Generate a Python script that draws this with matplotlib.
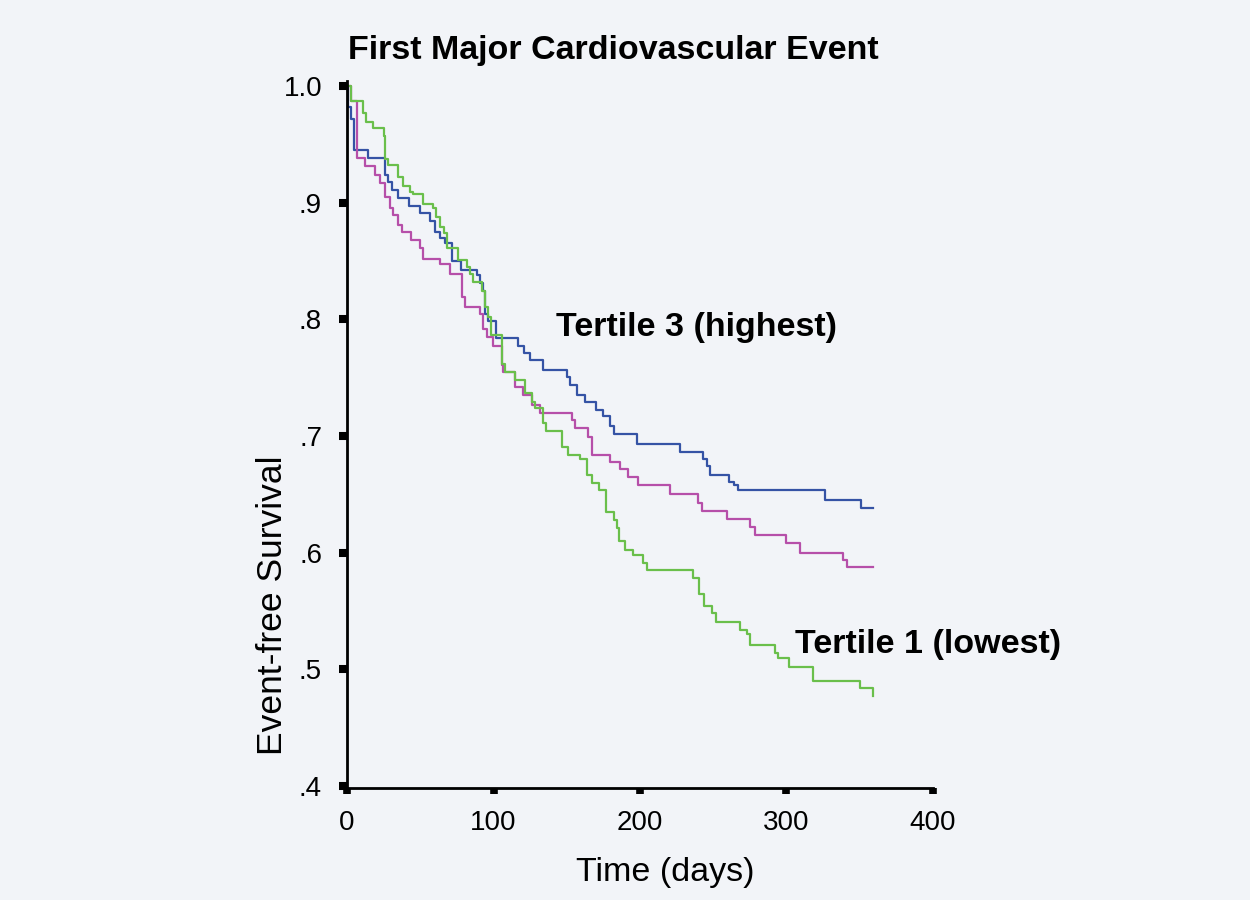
import numpy as np
import matplotlib
matplotlib.use("Agg")
import matplotlib.pyplot as plt

plt.rcParams['font.family'] = ['Liberation Sans', 'DejaVu Sans']

# Kaplan-Meier step data (days, event-free survival)
t_high = [0, 1, 3, 5, 14.6, 26, 28, 30.5, 35, 42, 50, 56.7, 60, 63.5, 67, 71.5,
          78, 88.5, 91, 93, 94, 96.5, 102, 117, 121, 125, 134, 150, 152, 157,
          162.5, 170, 175, 179.5, 182, 198, 227, 243, 245.5, 248, 261, 264, 267,
          326, 351, 359]
s_high = [1.0, 0.982, 0.972, 0.945, 0.938, 0.924, 0.918, 0.911, 0.904, 0.897,
          0.891, 0.884, 0.875, 0.870, 0.865, 0.850, 0.842, 0.838, 0.831, 0.824,
          0.805, 0.799, 0.784, 0.777, 0.771, 0.765, 0.757, 0.751, 0.744, 0.735,
          0.729, 0.722, 0.717, 0.709, 0.702, 0.693, 0.686, 0.680, 0.674, 0.667,
          0.661, 0.658, 0.654, 0.645, 0.638, 0.638]

t_mid = [0, 3, 6.6, 12.3, 19, 22.5, 26, 29.4, 31.6, 35, 37.3, 44, 49.8, 52, 63.5,
         70.3, 78.3, 80.5, 90.8, 93, 95.4, 99.9, 105.6, 106.7, 114.7, 120.3, 126,
         131.7, 153.4, 155.6, 164.7, 167, 179.5, 186.3, 192, 198.8, 220.5, 239.8,
         242, 259.2, 275, 278.5, 300, 309, 338.8, 341, 359]
s_mid = [1.0, 0.987, 0.938, 0.931, 0.924, 0.917, 0.905, 0.895, 0.889, 0.881,
         0.875, 0.868, 0.861, 0.852, 0.847, 0.839, 0.819, 0.811, 0.805, 0.792,
         0.785, 0.777, 0.761, 0.755, 0.742, 0.735, 0.727, 0.720, 0.714, 0.707,
         0.699, 0.684, 0.678, 0.672, 0.665, 0.658, 0.650, 0.643, 0.636, 0.629,
         0.622, 0.615, 0.608, 0.600, 0.594, 0.588, 0.588]

t_low = [0, 3, 11, 13, 18, 25, 26, 28, 35, 38, 43, 45, 52, 59, 61, 63.5, 66, 68,
         76, 82, 84, 86, 92, 94, 96.5, 98, 106, 108, 115, 121.5, 126, 128, 134,
         136, 147, 151, 159, 164, 167, 172, 177, 182, 184, 186, 190, 195.5, 202,
         205, 236, 240, 244, 249, 252, 268, 273, 275, 292, 294, 302, 318, 350, 359]
s_low = [1.0, 0.987, 0.977, 0.969, 0.964, 0.957, 0.937, 0.932, 0.922, 0.914,
         0.909, 0.907, 0.899, 0.895, 0.888, 0.879, 0.874, 0.861, 0.851, 0.845,
         0.839, 0.832, 0.824, 0.811, 0.802, 0.787, 0.762, 0.755, 0.748, 0.737,
         0.729, 0.724, 0.711, 0.704, 0.691, 0.684, 0.680, 0.667, 0.660, 0.654,
         0.635, 0.628, 0.621, 0.610, 0.602, 0.598, 0.591, 0.585, 0.578, 0.565,
         0.554, 0.548, 0.541, 0.534, 0.530, 0.521, 0.514, 0.510, 0.502, 0.490,
         0.484, 0.477]

xticks = [0, 100, 200, 300, 400]
yticks = [0.4, 0.5, 0.6, 0.7, 0.8, 0.9, 1.0]
ytick_labels = ['.4', '.5', '.6', '.7', '.8', '.9', '1.0']

bg = '#f2f4f8'
fig = plt.figure(figsize=(12.5, 9), dpi=100, facecolor=bg)
ax = fig.add_axes([0.2776, 0.1239, 0.4688, 0.7858], facecolor=bg)

ax.step(t_high, s_high, where='post', color='#3553a5', lw=1.6)
ax.step(t_mid, s_mid, where='post', color='#b64fa9', lw=1.6)
ax.step(t_low, s_low, where='post', color='#6abf4b', lw=1.6)

ax.set_xlim(0, 400)
ax.set_ylim(0.398, 1.004)
ax.set_xticks(xticks)
ax.set_yticks(yticks)
ax.set_yticklabels(ytick_labels)

for s in ['top', 'right']:
    ax.spines[s].set_visible(False)
for s in ['left', 'bottom']:
    ax.spines[s].set_linewidth(2)

ax.tick_params(axis='y', direction='out', length=6, width=5.8, labelsize=20, pad=12)
ax.tick_params(axis='x', direction='out', length=4.5, width=5.5, labelsize=20, pad=11)

ax.text(143, 0.793, 'Tertile 3 (highest)', fontsize=24.5, fontweight='bold',
        ha='left', va='center')
ax.text(306, 0.521, 'Tertile 1 (lowest)', fontsize=24.5, fontweight='bold',
        ha='left', va='center')

fig.text(0.491, 0.944, 'First Major Cardiovascular Event', fontsize=24.5,
         fontweight='bold', ha='center', va='center')
fig.text(0.532, 0.030, 'Time (days)', fontsize=24.5, ha='center', va='center')
fig.text(0.2176, 0.328, 'Event-free Survival', fontsize=25.5, ha='center',
         va='center', rotation=90)

fig.savefig('out.png', dpi=100, facecolor=bg)
